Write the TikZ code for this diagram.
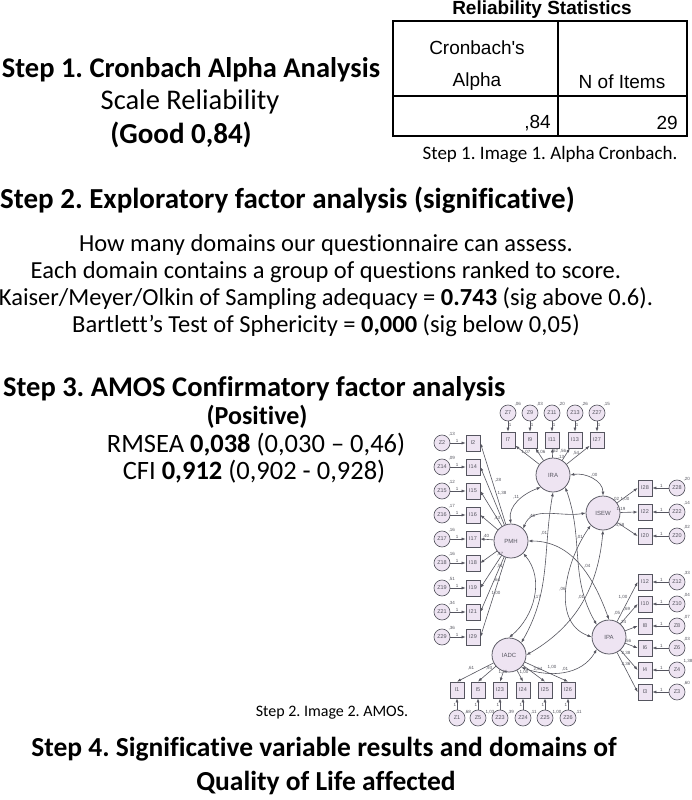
\documentclass[tikz,border=0pt]{standalone}
\usepackage{fontspec}
\setmainfont{Carlito}[Ligatures=NoCommon]
\newfontfamily\arialf{Liberation Sans}
\usetikzlibrary{arrows.meta}
\definecolor{lav}{RGB}{238,228,242}
\definecolor{edg}{RGB}{85,85,95}
\tikzset{
  lat/.style={circle,draw=edg,fill=lav,line width=0.75pt,minimum size=34pt,inner sep=0pt,font=\arialf\fontsize{6}{6}\selectfont,text=edg},
  obs/.style={rectangle,draw=edg,fill=lav,line width=0.75pt,minimum width=14pt,minimum height=16pt,inner sep=0pt,font=\arialf\fontsize{5.5}{5.5}\selectfont,text=edg},
  err/.style={circle,draw=edg,fill=lav,line width=0.65pt,minimum size=16pt,inner sep=0pt,font=\arialf\fontsize{5.5}{5.5}\selectfont,text=edg},
  num/.style={font=\arialf\fontsize{4.5}{4.5}\selectfont,text=edg,inner sep=0.5pt},
  arr/.style={-{Latex[length=4pt,width=3pt]},draw=edg,line width=0.6pt},
  cov/.style={{Latex[length=4pt,width=3pt]}-{Latex[length=4pt,width=3pt]},draw=edg,line width=0.6pt},
  ttl/.style={font=\bfseries\fontsize{28.5}{30}\selectfont,inner sep=0pt},
  body/.style={font=\fontsize{24.5}{26}\selectfont,inner sep=0pt},
  sub/.style={font=\fontsize{26.5}{28}\selectfont,inner sep=0pt},
  capt/.style={font=\fontsize{16}{18}\selectfont,inner sep=0pt},
  tab/.style={font=\arialf\fontsize{19}{21}\selectfont,inner sep=0pt}
}
\begin{document}
\frenchspacing
\begin{tikzpicture}[x=1pt,y=-1pt]
\useasboundingbox[fill=white] (0,0) rectangle (691,800);
% ---------- Step 1 ----------
\node[ttl] (s1) at (191,70) {Step 1. Cronbach Alpha Analysis};
\node[ttl,font=\fontsize{28.5}{30}\selectfont] (s1b) at (190,102) {Scale Reliability};
\node[ttl,font=\bfseries\fontsize{29}{30}\selectfont] (s1c) at (181,135) {(Good 0,84)};
% table
\node[tab,font=\arialf\bfseries\fontsize{19}{21}\selectfont] (rt) at (542,10) {Reliability Statistics};
\coordinate (tl) at (393,21);
\coordinate (br) at (687,136);
\draw[line width=1.3pt] (558,21) -- (558,136);
\draw[line width=2.8pt] (393,96) -- (687,96);
\draw[line width=2.8pt] (tl) rectangle (br);
\node[tab] (cb) at (477,48) {Cronbach's};
\node[tab] (al) at (477,82) {Alpha};
\node[tab] (ni) at (622,82) {N of Items};
\node[tab,anchor=east] (v1) at (551,123) {,84};
\node[tab,anchor=east] (v2) at (678,123) {29};
\node[capt,font=\fontsize{19}{21}\selectfont] (c1) at (550,155) {Step 1. Image 1. Alpha Cronbach.};
% ---------- Step 2 ----------
\node[ttl,font=\bfseries\fontsize{29}{30}\selectfont,anchor=west] (s2) at (0,200) {Step 2. Exploratory factor analysis (significative)};
\node[body] (b1) at (326,245) {How many domains our questionnaire can assess.};
\node[body] (b2) at (326,272) {Each domain contains a group of questions ranked to score.};
\node[body] (b3) at (326,299) {Kaiser/Meyer/Olkin of Sampling adequacy = \textbf{0.743} (sig above 0.6).};
\node[body] (b4) at (326,326) {Bartlett’s Test of Sphericity = \textbf{0,000} (sig below 0,05)};
% ---------- Step 3 ----------
\node[ttl,anchor=west] (s3) at (3,389) {Step 3. AMOS Confirmatory factor analysis};
\node[ttl,font=\bfseries\fontsize{26}{28}\selectfont] (s3a) at (257,417) {(Positive)};
\node[sub] (s3b) at (256,445) {RMSEA \textbf{0,038} (0,030 – 0,46)};
\node[sub] (s3c) at (254,472) {CFI \textbf{0,912} (0,902 - 0,928)};
\node[capt] (c2) at (332,713) {Step 2. Image 2. AMOS.};
% ---------- Step 4 ----------
\node[ttl,font=\bfseries\fontsize{27.5}{29}\selectfont] (s4) at (324,749) {Step 4. Significative variable results and domains of};
\node[ttl,font=\bfseries\fontsize{27.5}{29}\selectfont] (s4b) at (326,783) {Quality of Life affected};
% ---------- AMOS diagram ----------
\node[lat] (IRA) at (553,475) {IRA};
\node[lat] (PMH) at (511,541) {PMH};
\node[lat] (ISEW) at (603,513) {ISEW};
\node[lat] (IPA) at (609,637) {IPA};
\node[lat] (IADC) at (509,655) {IADC};
% top row (IRA)
\foreach \n/\x/\v in {7/508/{,06},9/530/{,03},11/552/{,20},13/575/{,26},27/597/{,15}}{
  \node[obs] (i\n) at (\x,440) {I\n};
  \node[err] (z\n) at (\x,413) {Z\n};
  \node[num,anchor=south west] at (z\n.north east) {\v};
  \draw[arr] (z\n) -- node[num,right,pos=0.4]{1} (i\n);
  \draw[arr] (IRA) -- (i\n);
}
\node[num] at (526,452) {1,07};
\node[num] at (541,452) {1,06};
\node[num] at (555,451) {,62};
\node[num] at (563,451) {,56};
\node[num] at (576,453) {,54};
\node[num] at (561,457) {,13};
% left column (PMH)
\foreach \n/\y/\v in {2/443/{,13},14/467/{,09},15/491/{,12},16/515/{,17},17/539/{,16},18/563/{,16},19/588/{,51},21/612/{,34},29/637/{,36}}{
  \node[obs] (i\n) at (473,\y) {I\n};
  \node[err] (z\n) at (442,\y) {Z\n};
  \node[num,anchor=south west] at (z\n.north east) {\v};
  \draw[arr] (z\n) -- node[num,above,pos=0.45]{1} (i\n);
  \draw[arr] (PMH) -- (i\n.east);
}
\node[num] at (498,480) {,28};
\node[num] at (502,493) {1,38};
\node[num] at (497,518) {,43};
\node[num] at (486,536) {,40};
\node[num] at (500,554) {,47};
\node[num] at (500,566) {,51};
\node[num] at (497,580) {,64};
\node[num] at (496,593) {1,00};
% ISEW
\foreach \n/\y/\v in {28/488/{,20},22/512/{,14},20/536/{,02}}{
  \node[obs] (i\n) at (645,\y) {I\n};
  \node[err] (z\n) at (677,\y) {Z\n};
  \node[num,anchor=south west] at (z\n.north east) {\v};
  \draw[arr] (z\n) -- node[num,above,pos=0.45]{1} (i\n);
  \draw[arr] (ISEW) -- (i\n.west);
}
\node[num] at (616,499) {,02};
\node[num] at (625,499) {1,00};
\node[num] at (621,509) {1,19};
\node[num] at (620,525) {4,58};
% IPA
\foreach \n/\y/\v in {12/582/{,33},10/604/{,04},8/626/{,07},6/648/{,03},4/670/{1,38},3/692/{,60}}{
  \node[obs] (i\n) at (645,\y) {I\n};
  \node[err] (z\n) at (677,\y) {Z\n};
  \node[num,anchor=south west] at (z\n.north east) {\v};
  \draw[arr] (z\n) -- node[num,above,pos=0.45]{1} (i\n);
  \draw[arr] (IPA) -- (i\n.west);
}
\node[num] at (623,597) {1,00};
\node[num] at (627,609) {,69};
\node[num] at (617,613) {,05};
\node[num] at (623,622) {,24};
\node[num] at (628,641) {,56};
\node[num] at (626,653) {2,38};
\node[num] at (626,664) {2,36};
% IADC
\foreach \n/\x/\v in {1/457/{,68},5/478/{1,03},23/500/{,39},24/523/{,11},25/545/{1,00},26/568/{,11}}{
  \node[obs] (i\n) at (\x,690) {I\n};
  \node[err] (z\n) at (\x,718) {Z\n};
  \node[num,anchor=west] at ([xshift=1pt]z\n.north east) {\v};
  \draw[arr] (z\n) -- node[num,left,pos=0.45]{1} (i\n);
  \draw[arr] (IADC) -- (i\n.north);
}
\node[num] at (471,668) {,61};
\node[num] at (489,668) {,93};
\node[num] at (503,672) {1,36};
\node[num] at (524,672) {1,00};
\node[num] at (538,669) {2,64};
\node[num] at (552,667) {1,00};
\node[num] at (565,669) {,01};
% covariances
\draw[cov] (IRA.east) to[out=10,in=90] node[num,pos=0.45,above right]{,00} (ISEW.north);
\draw[cov] (IRA.south west) to[out=200,in=100] node[num,pos=0.4,left=2pt]{,11} (PMH.north);
\draw[cov] (PMH.north east) to[out=70,in=190] node[num,pos=0.3,left]{,40} (ISEW.west);
\draw[cov] (IRA.south) to[out=-100,in=60] node[num,pos=0.25,left]{,01} (IADC.north east);
\draw[cov] (PMH.south east) to[out=-50,in=40] node[num,pos=0.5,right]{,17} (IADC.north);
\draw[cov] (IRA.south east) to[out=-70,in=120] node[num,pos=0.35,right]{,01} (IPA.north west);
\draw[cov] (PMH.east) to[out=0,in=110] node[num,pos=0.55,above right]{,04} (IPA.north);
\draw[cov] (ISEW.south west) to[out=-125,in=160] node[num,pos=0.5,left]{,06} (IPA.west);
\draw[cov] (ISEW.south) to[out=-95,in=30] node[num,pos=0.45,left]{,01} (IADC.east);
\draw[cov] (IADC.south east) to[out=-20,in=-120] (IPA.south west);
\end{tikzpicture}
\end{document}
